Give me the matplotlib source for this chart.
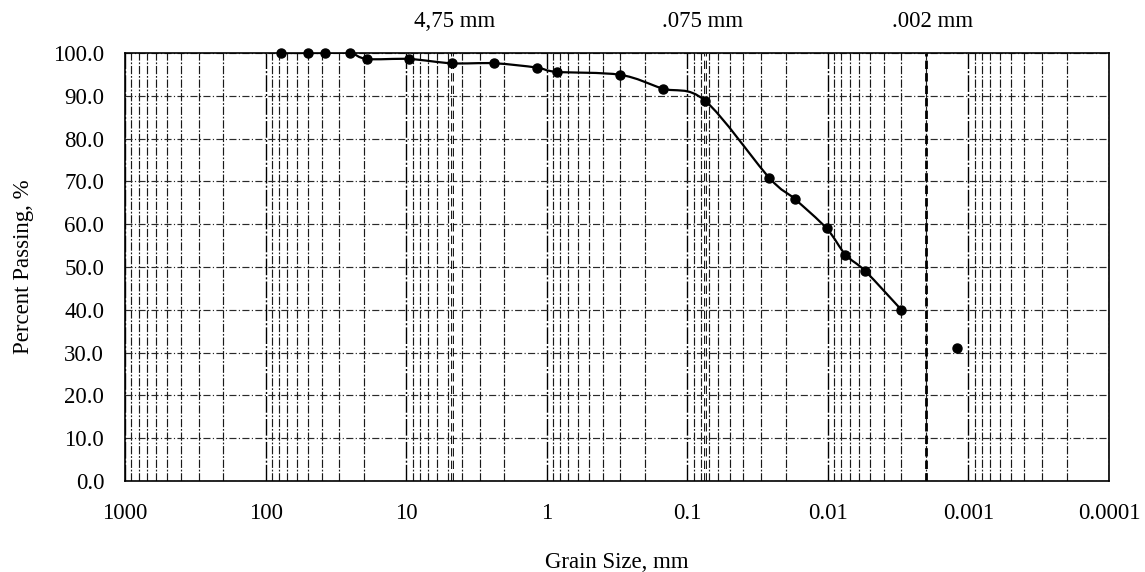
import numpy as np
import matplotlib
matplotlib.use("Agg")
import matplotlib.pyplot as plt
from matplotlib.path import Path
from matplotlib.patches import PathPatch
from matplotlib.ticker import LogLocator, NullFormatter

# ---- data ----
grain_size_mm = [78, 50, 37.5, 25, 19, 9.5, 4.75, 2.36, 1.18, 0.85, 0.30, 0.15,
                 0.075, 0.0262, 0.0172, 0.0102, 0.0075, 0.0054, 0.0030]
percent_passing = [100.0, 100.0, 100.0, 100.0, 98.6, 98.6, 97.6, 97.6, 96.6, 95.6,
                   94.9, 91.7, 88.9, 70.9, 65.9, 59.0, 52.9, 49.0, 40.0]
extra_size_mm = [0.0012]
extra_percent = [31.1]
marker_sizes_mm = [4.75, 0.075, 0.002]
marker_labels = ["4,75 mm", ".075 mm", ".002 mm"]
x_ticks = [1000, 100, 10, 1, 0.1, 0.01, 0.001, 0.0001]
x_tick_labels = ["1000", "100", "10", "1", "0.1", "0.01", "0.001", "0.0001"]
y_ticks = [0, 10, 20, 30, 40, 50, 60, 70, 80, 90, 100]

plt.rcParams['font.family'] = ['Liberation Serif', 'DejaVu Serif']
FS = 16.5

fig = plt.figure(figsize=(11.45, 5.72), dpi=100)
ax = fig.add_axes([125/1145, 1-481/572, (1109-125)/1145, (481-53)/572])
ax.set_xscale('log')
ax.set_xlim(1000, 0.0001)
ax.set_ylim(0, 100)

# grid
ax.xaxis.set_minor_locator(LogLocator(base=10, subs=np.arange(2, 10), numticks=100))
ax.xaxis.set_minor_formatter(NullFormatter())
ax.grid(which='major', axis='x', color='black', linestyle=(0, (12, 1.5, 1.5, 1.5)), lw=1.0)
ax.grid(which='minor', axis='x', color='#1a1a1a', linestyle=(0, (7, 1.5, 1.5, 1.5)), lw=0.85)
ax.grid(which='major', axis='y', color='#2a2a2a', linestyle=(0, (6, 2, 1, 2)), lw=0.85)

# special dashed lines
for s in marker_sizes_mm:
    ax.axvline(s, color='black', lw=2.0, linestyle=(0, (3, 1.5)), zorder=2)
for s in marker_sizes_mm[:2]:
    ax.axvline(s, color='white', lw=0.6, zorder=2.1)

# smoothed curve (Excel-like Bezier in log-x space)
lx = np.log10(grain_size_mm)
yy = np.array(percent_passing, dtype=float)
P = np.column_stack([lx, yy])
n = len(P)
verts = [P[0]]
codes = [Path.MOVETO]
for i in range(n - 1):
    p_prev = P[i - 1] if i > 0 else P[i]
    p_next2 = P[i + 2] if i + 2 < n else P[i + 1]
    c1 = P[i] + (P[i + 1] - p_prev) / 6.0
    c2 = P[i + 1] - (p_next2 - P[i]) / 6.0
    verts += [c1, c2, P[i + 1]]
    codes += [Path.CURVE4] * 3
verts = np.array(verts)
verts[:, 0] = 10 ** verts[:, 0]
ax.add_patch(PathPatch(Path(verts, codes), fill=False, edgecolor='black', lw=1.6,
                       transform=ax.transData, zorder=3))
ax.plot(grain_size_mm, percent_passing, 'o', color='black', ms=6.5, zorder=4, clip_on=False)
ax.plot(extra_size_mm, extra_percent, 'o', color='black', ms=6.5, zorder=4)

# header labels
offsets = [2, -2, 5]
for s, lab, dx in zip(marker_sizes_mm, marker_labels, offsets):
    ax.annotate(lab, xy=(s, 1.0), xycoords=ax.get_xaxis_transform(),
                xytext=(dx, 23), textcoords='offset points',
                ha='center', va='center', fontsize=FS)

ax.set_xticks(x_ticks)
ax.set_xticklabels(x_tick_labels)
ax.set_yticks(y_ticks)
ax.set_yticklabels([f"{v:.1f}" for v in y_ticks])
ax.tick_params(axis='both', which='both', length=0, labelsize=FS)
ax.tick_params(axis='y', pad=15)
ax.tick_params(axis='x', pad=16)
ax.set_xlabel("Grain Size, mm", fontsize=FS, labelpad=20)
ax.set_ylabel("Percent Passing, %", fontsize=FS, labelpad=14)
for sp in ax.spines.values():
    sp.set_color('black')
    sp.set_linewidth(1.2)

fig.savefig("out.png", dpi=100)
